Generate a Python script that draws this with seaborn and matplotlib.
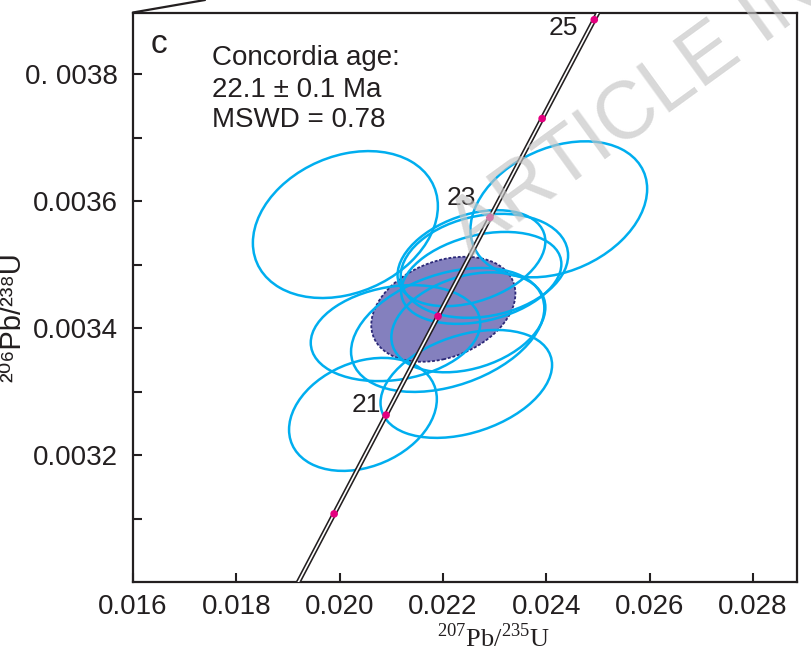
import numpy as np
import pandas as pd
import matplotlib
matplotlib.use("Agg")
import matplotlib.pyplot as plt
import seaborn as sns
from matplotlib.patches import Ellipse
from matplotlib.transforms import Affine2D
from matplotlib.lines import Line2D

# ---------------- data ----------------
# analysed spots: centre ratios, half-extent of the error ellipses, error correlation
spot_207_235 = [0.02011, 0.02424, 0.02045, 0.02245, 0.02255, 0.02280, 0.02274, 0.02108, 0.02209, 0.02249]
spot_206_238 = [0.003563, 0.003587, 0.003264, 0.003312, 0.003510, 0.003498, 0.003479, 0.003392, 0.003397, 0.003409]
spot_err_x = [0.00179, 0.00171, 0.00143, 0.00166, 0.00143, 0.00162, 0.00155, 0.00164, 0.00187, 0.00149]
spot_err_y = [0.0001157, 0.0001071, 0.0000890, 0.0000850, 0.0000756, 0.0000819, 0.0000724, 0.0000756, 0.0000976, 0.0000787]
spot_rho = [0.25, 0.30, 0.27, 0.35, 0.35, 0.20, 0.30, 0.20, 0.35, 0.30]

# concordia age ellipse
conc_207_235 = 0.022006
conc_206_238 = 0.0034296
conc_err_x = 0.001395
conc_err_y = 0.0000827
conc_rho = 0.30

# concordia age markers (Ma)
marker_ages = [20, 21, 22, 23, 24, 25]
labelled_ages = [21, 23, 25]
curve_age_range = [19.0, 26.0]

x_ticks = [0.016, 0.018, 0.020, 0.022, 0.024, 0.026, 0.028]
x_tick_labels = ["0.016", "0.018", "0.020", "0.022", "0.024", "0.026", "0.028"]
y_ticks = [0.0031, 0.0032, 0.0033, 0.0034, 0.0035, 0.0036, 0.0037, 0.0038]
y_tick_labels = ["", "0.0032", "", "0.0034", "", "0.0036", "", "0. 0038"]

info_lines = ["Concordia age:", "22.1 \u00b1 0.1 Ma", "MSWD = 0.78"]
panel_label = "c"

LAMBDA_238 = 1.55125e-10
LAMBDA_235 = 9.8485e-10

# ---------------- style ----------------
sns.set_theme(style="white")
plt.rcParams['font.family'] = ['Liberation Sans', 'DejaVu Sans']
plt.rcParams['mathtext.fontset'] = 'custom'
plt.rcParams['mathtext.rm'] = 'Liberation Serif'

INK = '#231f20'
BLUE = '#00aeef'
MAGENTA = '#e4007f'

fig = plt.figure(figsize=(8.11, 6.59), dpi=100)
ax = fig.add_axes([133 / 811, 1 - 582 / 659, (797 - 133) / 811, (582 - 12.5) / 659])


def cov_ellipse(ax, cx, cy, ex, ey, rho, **kw):
    m = np.array([[ex, 0.0, cx],
                  [ey * rho, ey * np.sqrt(1 - rho ** 2), cy],
                  [0.0, 0.0, 1.0]])
    e = Ellipse((0, 0), 2, 2, transform=Affine2D(m) + ax.transData, **kw)
    ax.add_patch(e)
    return e


# concordia age ellipse (filled)
cov_ellipse(ax, conc_207_235, conc_206_238, conc_err_x, conc_err_y, conc_rho,
            facecolor='#8480be', edgecolor='#2b2878', lw=1.3,
            linestyle=(0, (1.6, 1.0)), zorder=2)

# spot ellipses
for cx, cy, ex, ey, r in zip(spot_207_235, spot_206_238, spot_err_x, spot_err_y, spot_rho):
    cov_ellipse(ax, cx, cy, ex, ey, r, facecolor='none', edgecolor=BLUE, lw=1.8, zorder=3)

# concordia curve (double line)
ages = np.linspace(curve_age_range[0], curve_age_range[1], 200)
curve = pd.DataFrame({
    'x': np.exp(LAMBDA_235 * ages * 1e6) - 1,
    'y': np.exp(LAMBDA_238 * ages * 1e6) - 1,
})
sns.lineplot(data=curve, x='x', y='y', sort=False, estimator=None,
             color=INK, lw=3.5, ax=ax, zorder=4)
sns.lineplot(data=curve, x='x', y='y', sort=False, estimator=None,
             color='white', lw=1.2, ax=ax, zorder=4.1)

marks = pd.DataFrame({'age': marker_ages})
marks['x'] = np.exp(LAMBDA_235 * marks['age'] * 1e6) - 1
marks['y'] = np.exp(LAMBDA_238 * marks['age'] * 1e6) - 1
sns.scatterplot(data=marks, x='x', y='y', color=MAGENTA, s=30,
                edgecolor='none', ax=ax, zorder=5)

label_offsets = {21: (-14, 7), 23: (-21, 14), 25: (-22, -6)}
for a in labelled_ages:
    row = marks[marks['age'] == a].iloc[0]
    ax.annotate(str(a), (row['x'], row['y']), xytext=label_offsets[a],
                textcoords='offset points', ha='center', va='center',
                fontsize=19, color=INK, zorder=6)

# axes
ax.set_xlim(0.016, 0.02885)
ax.set_ylim(0.0030, 0.003897)
ax.set_xticks(x_ticks)
ax.set_xticklabels(x_tick_labels)
ax.set_yticks(y_ticks)
ax.set_yticklabels(y_tick_labels)
ax.tick_params(axis='both', direction='in', length=6.5, width=1.5, color=INK,
               labelsize=20, labelcolor=INK, bottom=True, left=True)
ax.tick_params(axis='x', pad=9)
ax.tick_params(axis='y', pad=11)
for s in ax.spines.values():
    s.set_color(INK)
    s.set_linewidth(1.6)
ax.grid(False)

ax.set_xlabel(r'$^{\mathrm{207}}\mathrm{Pb/}^{\mathrm{235}}\mathrm{U}$', fontsize=19,
              color=INK)
ax.set_ylabel('\u00b2\u2070\u2076Pb/\u00b2\u00b3\u2078U', fontsize=21,
              family=['Liberation Sans', 'DejaVu Sans'], color=INK)
ax.xaxis.set_label_coords(0.543, -0.072)
ax.yaxis.set_label_coords(-0.160, 0.465)

# text
ax.text((151 - 133) / 664, (582 - 53) / 569.5, panel_label, transform=ax.transAxes,
        fontsize=24, color=INK, ha='left', va='baseline')
baselines = [65, 96.7, 126.7]
for t, b in zip(info_lines, baselines):
    ax.text((212 - 133) / 664, (582 - b) / 569.5, t, transform=ax.transAxes,
            fontsize=20, color=INK, ha='left', va='baseline')

# frame remnant at top-left
fig.add_artist(Line2D([133 / 811, 205 / 811], [1 - 12.5 / 659, 1.0],
                      transform=fig.transFigure, color=INK, lw=1.6))

# watermark
fig.text(470 / 811, 1 - 257 / 659, 'ARTICLE IN PRESS', rotation=36,
         rotation_mode='anchor', ha='left', va='baseline', fontsize=58,
         color='#c4c4c4', alpha=0.65, zorder=10)

fig.savefig('out.png', dpi=100)
